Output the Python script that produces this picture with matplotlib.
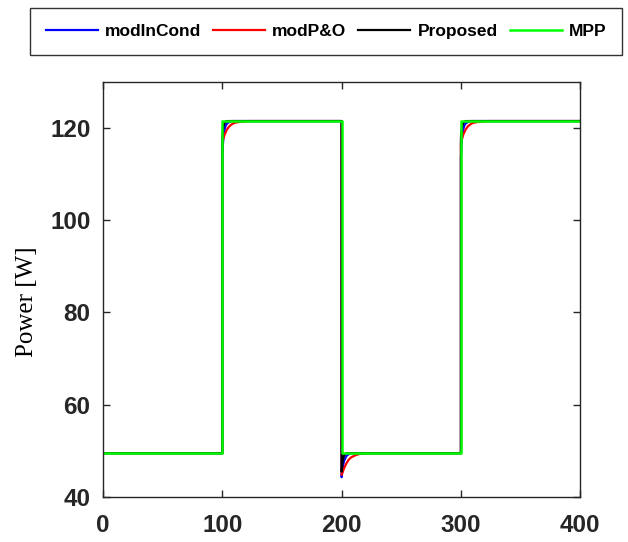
import matplotlib
matplotlib.use('Agg')
import matplotlib.pyplot as plt
import numpy as np

# MPP reference levels
mppLow = 49.5
mppHigh = 121.5
stepTimes = [0, 100, 200, 300, 400]
mppLevels = [mppLow, mppHigh, mppLow, mppHigh]

# transient after step up (seconds after step, power W)
upInCondT = [0, 0.5, 1, 2, 3, 4, 6, 8]
upInCondP = [113.5, 116.5, 118.0, 119.8, 120.6, 121.0, 121.3, 121.5]
upPOT = [0, 1, 2, 4, 6, 8, 10, 14, 18, 22]
upPOP = [117.0, 117.8, 118.6, 119.7, 120.4, 120.8, 121.1, 121.3, 121.4, 121.5]
upPropT = [0, 0.5, 1, 2, 3, 4]
upPropP = [118.0, 119.5, 120.4, 121.1, 121.4, 121.5]

# transient after step down
downInCondT = [0, 1, 2, 4, 6, 8]
downInCondP = [44.3, 46.5, 47.8, 48.9, 49.3, 49.5]
downPOT = [0, 2, 4, 6, 8, 12, 16, 20]
downPOP = [44.8, 46.2, 47.3, 48.1, 48.6, 49.1, 49.4, 49.5]
downPropT = [0, 0.5, 1, 2, 3, 4]
downPropP = [45.5, 47.0, 48.0, 49.0, 49.3, 49.5]


def buildSeries(upT, upP, downT, downP):
    t = [0]
    p = [mppLow]
    for start, end, level in zip(stepTimes[:-1], stepTimes[1:], mppLevels):
        if start == 0:
            continue
        if level == mppHigh:
            tt, pp = upT, upP
        else:
            tt, pp = downT, downP
        t.append(start)
        p.append(p[-1])
        t += [start + d for d in tt]
        p += list(pp)
    t.append(400)
    p.append(p[-1])
    return np.array(t), np.array(p)


def mppSeries():
    t, p = [], []
    for start, end, level in zip(stepTimes[:-1], stepTimes[1:], mppLevels):
        t += [start, end]
        p += [level, level]
    return np.array(t), np.array(p)


tIC, pIC = buildSeries(upInCondT, upInCondP, downInCondT, downInCondP)
tPO, pPO = buildSeries(upPOT, upPOP, downPOT, downPOP)
tPr, pPr = buildSeries(upPropT, upPropP, downPropT, downPropP)
tM, pM = mppSeries()

plt.rcParams['font.family'] = ['Liberation Sans', 'DejaVu Sans']

fig = plt.figure(figsize=(6.28, 5.42), dpi=100)
ax = fig.add_axes([0.164, 0.083, 0.76, 0.766])

ax.plot(tIC, pIC, color='#0000ff', lw=1.6, label='modInCond')
ax.plot(tPO, pPO, color='#ff0000', lw=1.6, label='modP&O')
ax.plot(tPr, pPr, color='black', lw=1.6, label='Proposed')
ax.plot(tM, pM, color='#00ff00', lw=1.8, label='MPP')

ax.set_xlim(0, 400)
ax.set_ylim(40, 130)
ax.set_xticks([0, 100, 200, 300, 400])
ax.set_yticks([40, 60, 80, 100, 120])
ax.tick_params(direction='in', top=True, right=True, length=5, width=1,
               labelsize=17.5, color='#262626')
ax.tick_params(axis='x', pad=12)
ax.tick_params(axis='y', pad=9)
for lab in ax.get_xticklabels() + ax.get_yticklabels():
    lab.set_fontweight('bold')
    lab.set_color('#262626')
for s in ax.spines.values():
    s.set_color('#262626')
    s.set_linewidth(1)

ax.set_ylabel('Power [W]', family=['Liberation Serif', 'DejaVu Serif'],
              fontsize=18)
ax.yaxis.set_label_coords(-0.136, 0.47)

leg = fig.legend(loc='center', bbox_to_anchor=(0.519, 0.942), ncol=4,
                 frameon=True, fancybox=False, edgecolor='black',
                 prop={'family': ['Liberation Sans', 'DejaVu Sans'],
                       'weight': 'bold', 'size': 12.5},
                 handlelength=3.0, columnspacing=0.7, handletextpad=0.4,
                 borderpad=0.9, borderaxespad=0)
leg.get_frame().set_linewidth(1)

fig.savefig('out.png', dpi=100)
